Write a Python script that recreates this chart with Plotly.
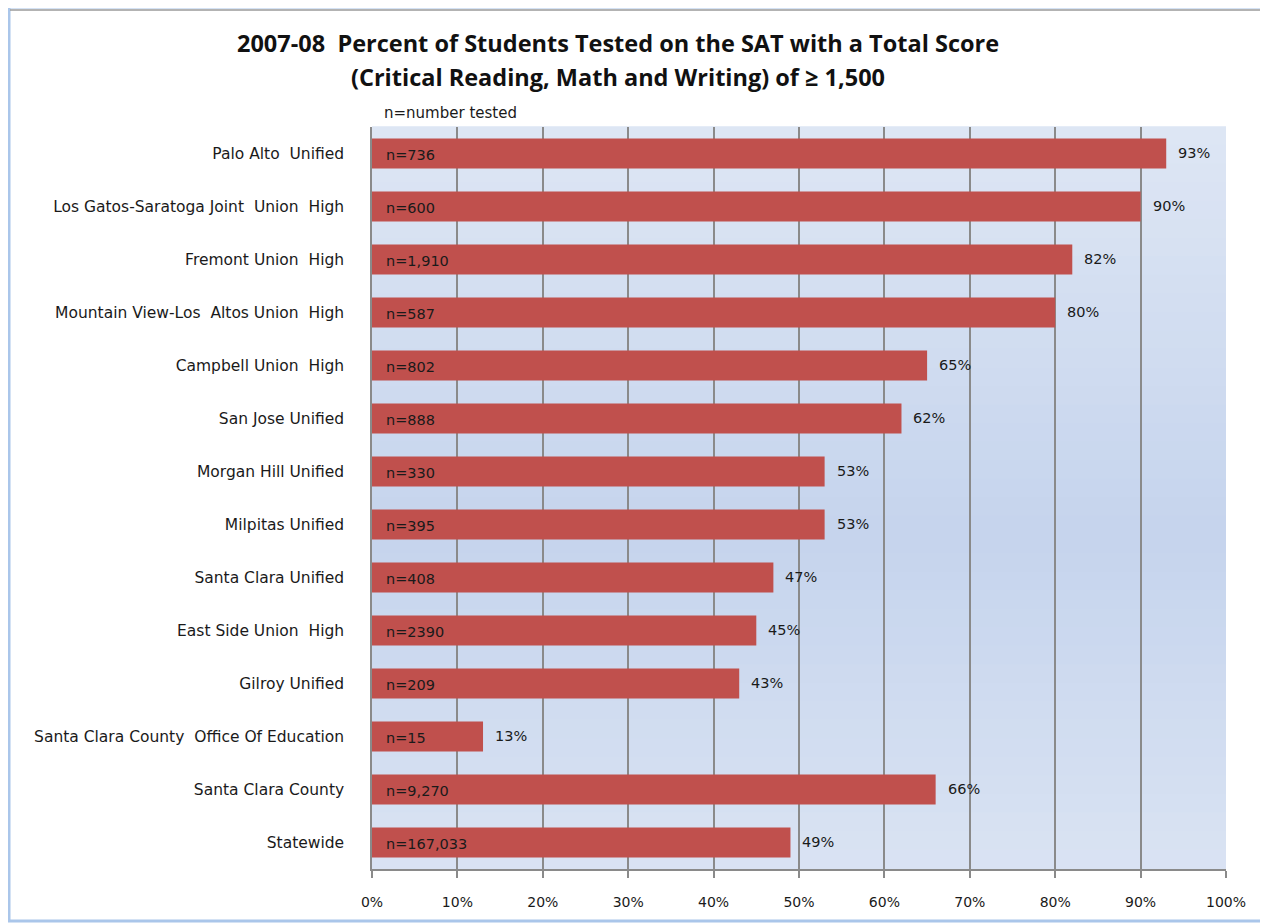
import plotly.graph_objects as go

categories = [
    "Palo Alto  Unified",
    "Los Gatos-Saratoga Joint  Union  High",
    "Fremont Union  High",
    "Mountain View-Los  Altos Union  High",
    "Campbell Union  High",
    "San Jose Unified",
    "Morgan Hill Unified",
    "Milpitas Unified",
    "Santa Clara Unified",
    "East Side Union  High",
    "Gilroy Unified",
    "Santa Clara County  Office Of Education",
    "Santa Clara County",
    "Statewide",
]
percents = [93, 90, 82, 80, 65, 62, 53, 53, 47, 45, 43, 13, 66, 49]
n_tested = ["736", "600", "1,910", "587", "802", "888", "330", "395", "408",
            "2390", "209", "15", "9,270", "167,033"]
tick_vals = [0, 10, 20, 30, 40, 50, 60, 70, 80, 90, 100]
tick_text = ["0%", "10%", "20%", "30%", "40%", "50%", "60%", "70%", "80%", "90%", "100%"]
title_lines = [
    "2007-08  Percent of Students Tested on the SAT with a Total Score",
    "(Critical Reading, Math and Writing) of \u2265 1,500",
]

labels = [c.replace("  ", "\u00a0 ") for c in categories]

FONT = "DejaVu Sans"
TXT = "#1a1a1a"

# page offset (body margin) = 8px
OFF = 8
FW, FH = 1260, 916
L, T, R, B = 372 - OFF, 127 - OFF, FW - (1226 - OFF), FH - (869 - OFF)
W, H = FW - L - R, FH - T - B

def px(xp):
    return (xp - OFF - L) / W

def py(yp):
    return 1 - (yp - OFF - T) / H

fig = go.Figure()
fig.add_trace(go.Bar(
    y=labels, x=percents, orientation="h",
    marker=dict(color="#C0504D", line=dict(width=0)),
    width=0.57,
    hoverinfo="skip",
))

annotations = []
for lab, p, n in zip(labels, percents, n_tested):
    annotations.append(dict(
        x=p, y=lab, xref="x", yref="y", text=f"{p}%", showarrow=False,
        xanchor="left", xshift=10, yshift=1,
        font=dict(family=FONT, size=14.5, color=TXT),
    ))
    annotations.append(dict(
        x=0, y=lab, xref="x", yref="y", text="n=" + n, showarrow=False,
        xanchor="left", xshift=12, yshift=-1,
        font=dict(family=FONT, size=14.5, color=TXT),
    ))
annotations.append(dict(
    x=0, y=1, xref="paper", yref="paper", text="n=number tested", showarrow=False,
    xanchor="left", yanchor="bottom", xshift=10, yshift=3,
    font=dict(family=FONT, size=15, color=TXT),
))
for line, yc in zip(title_lines, [43, 77]):
    annotations.append(dict(
        x=px(618), y=py(yc), xref="paper", yref="paper", text="<b>" + line + "</b>",
        showarrow=False, xanchor="center", yanchor="middle",
        font=dict(family="Open Sans", size=23.5, color="#111111"),
    ))

# vertical gradient background bands
shapes = []
nb = 40
top = (222, 230, 244)
mid = (197, 212, 237)
for i in range(nb):
    t = (i + 0.5) / nb
    f = 1 - abs(t - 0.55) / 0.55
    f = max(0.0, min(1.0, f))
    col = tuple(int(round(top[k] + (mid[k] - top[k]) * f)) for k in range(3))
    shapes.append(dict(
        type="rect", xref="paper", yref="paper",
        x0=0, x1=1, y0=1 - (i + 1) / nb, y1=1 - i / nb + 0.001,
        fillcolor="rgb(%d,%d,%d)" % col, line=dict(width=0), layer="below",
    ))
# outer frame
shapes.append(dict(type="rect", xref="paper", yref="paper",
                   x0=px(9), x1=px(1265), y0=py(921), y1=py(7),
                   line=dict(color="#aac6ea", width=3), layer="below"))
shapes.append(dict(type="line", xref="paper", yref="paper",
                   x0=px(10), x1=px(1265), y0=py(10), y1=py(10),
                   line=dict(color="#9a9a9a", width=1.5), layer="below"))
shapes.append(dict(type="line", xref="paper", yref="paper",
                   x0=px(1265), x1=px(1265), y0=py(920), y1=py(10),
                   line=dict(color="#b0b0b0", width=1.5), layer="below"))

fig.update_layout(
    width=FW, height=FH,
    margin=dict(l=L, r=R, t=T, b=B, autoexpand=False),
    paper_bgcolor="white",
    plot_bgcolor="#dde5f3",
    showlegend=False,
    xaxis=dict(
        range=[0, 100], tickvals=tick_vals, ticktext=tick_text,
        showgrid=True, gridcolor="#8a8a8a", gridwidth=1.5,
        ticks="outside", ticklen=7, tickcolor="#8a8a8a", tickwidth=1.5,
        ticklabelstandoff=12,
        showline=True, linecolor="#8a8a8a", linewidth=1.5,
        zeroline=False,
        tickfont=dict(family=FONT, size=14, color=TXT),
        fixedrange=True,
    ),
    yaxis=dict(
        autorange="reversed", showgrid=False, zeroline=False,
        ticks="", ticklabelstandoff=23,
        showline=True, linecolor="#8a8a8a", linewidth=1.5,
        tickfont=dict(family=FONT, size=15.5, color=TXT),
        fixedrange=True,
    ),
    annotations=annotations,
    shapes=shapes,
)

fig.write_html("out.html")
